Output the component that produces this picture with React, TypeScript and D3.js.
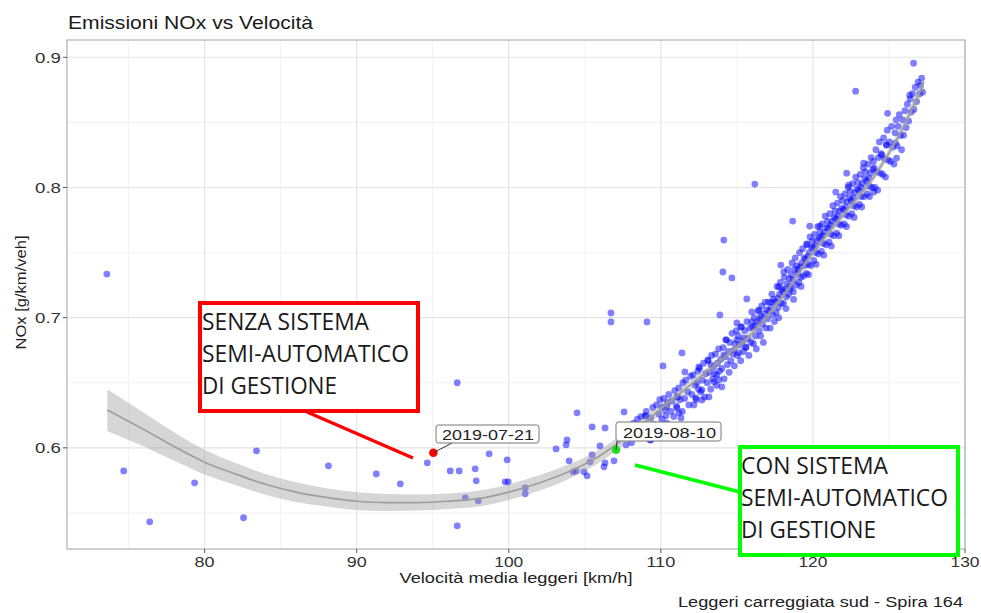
import React from 'react';
import * as d3 from 'd3';

const xTicks = [80, 90, 100, 110, 120, 130];
const xMinorTicks = [75, 85, 95, 105, 115, 125];
const yTicks = [0.6, 0.7, 0.8, 0.9];
const yMinorTicks = [0.55, 0.65, 0.75, 0.85];

const scatterPoints: [number, number][] = [
  [73.57,0.7335],[74.68,0.5823],[76.39,0.5432],[79.34,0.5731],[82.56,0.5463],[83.41,0.5977],[88.14,0.5862],[91.29,0.580],
  [92.87,0.5724],[94.64,0.5885],[96.15,0.5823],[96.74,0.5823],[96.61,0.650],[96.61,0.5401],[97.14,0.5616],[97.79,0.5839],
  [97.86,0.5747],[97.99,0.5593],[98.71,0.5954],[99.89,0.5908],[99.76,0.5739],[99.96,0.5739],[101.08,0.5693],[101.08,0.5647],
  [103.11,0.5992],[103.77,0.6023],[103.83,0.6061],[103.97,0.590],[104.49,0.6269],[104.23,0.5816],[104.43,0.5823],[104.95,0.5816],
  [105.15,0.5785],[105.48,0.6161],[105.48,0.5946],[105.34,0.5893],[106.0,0.6015],[106.33,0.6153],[106.26,0.5854],[106.33,0.5885],
  [106.92,0.590],[107.58,0.6276],[107.71,0.6023],[106.72,0.7036],[106.72,0.6967],[108.96,0.6246],[109.09,0.6967],[109.28,0.6061],
  [110.14,0.6629],[111.39,0.6729],[111.58,0.6583],[112.5,0.6622],[113.09,0.6675],[111.12,0.6391],[113.88,0.7021],[114.14,0.7596],
  [114.08,0.7351],[114.67,0.7305],[115.0,0.6959],[115.26,0.6929],[115.65,0.7144],[115.98,0.7044],[116.44,0.7059],[115.98,0.6967],
  [116.18,0.8026],[117.76,0.7236],[117.89,0.7404],[118.08,0.7351],[118.67,0.7742],[119.59,0.7566],[119.79,0.7704],[120.45,0.7704],
  [121.5,0.7965],[122.22,0.811],[122.35,0.8018],[122.81,0.874],[123.34,0.8187],[124.0,0.7965],[124.84,0.8325],[125.43,0.834],
  [125.5,0.8226],[125.96,0.8402],[126.62,0.8955],[127.08,0.8786],[127.21,0.8732],[126.36,0.871],[124.91,0.857],
  [112.37,0.650],[112.7,0.6445],[113.16,0.6391],[112.3,0.6384],[112.7,0.6368],[112.17,0.633],[111.19,0.6269],[111.32,0.623],
  [111.06,0.6307],[110.33,0.6246],[110.4,0.6315],[110.07,0.6315],[109.02,0.6246],[109.35,0.6061],[111.06,0.6391],[113.68,0.656],
  [113.81,0.6522],[113.49,0.6507],[114.01,0.6468],[113.3,0.6637],[114.27,0.683],[115.0,0.683],[115.46,0.6844],[114.14,0.6714],
  [114.8,0.675],[115.59,0.6775],[115.13,0.673]
];

const clusterPoints: [number, number][] = [
  [108.07,0.604],[108.21,0.619],[108.38,0.611],[108.46,0.622],
  [108.55,0.609],[108.69,0.624],[108.83,0.616],[108.97,0.611],
  [109.04,0.628],[109.18,0.615],[109.33,0.623],[109.47,0.631],
  [109.58,0.618],[109.71,0.633],[109.86,0.626],[109.93,0.637],
  [110.06,0.622],[110.19,0.638],[110.27,0.629],[110.44,0.635],[110.38,0.619],
  [110.52,0.641],[110.66,0.628],[110.74,0.636],[110.91,0.644],[110.85,0.624],
  [111.03,0.632],[111.17,0.646],[111.26,0.637],[111.41,0.628],[111.45,0.650],
  [111.56,0.638],[111.63,0.652],[111.77,0.643],[111.84,0.633],[111.96,0.655],
  [112.04,0.641],[112.12,0.656],[112.25,0.648],[112.31,0.637],[112.43,0.659],[112.48,0.645],
  [112.55,0.661],[112.62,0.643],[112.74,0.652],[112.81,0.665],[112.88,0.639],[112.95,0.657],
  [113.05,0.650],[113.11,0.667],[113.19,0.658],[113.28,0.645],[113.33,0.671],[113.41,0.653],[113.46,0.662],
  [113.53,0.657],[113.59,0.672],[113.66,0.648],[113.72,0.665],[113.8,0.676],[113.87,0.659],[113.94,0.668],
  [114.02,0.661],[114.1,0.677],[114.16,0.653],[114.24,0.670],[114.31,0.683],[114.38,0.664],[114.45,0.674],[114.49,0.658],
  [114.54,0.681],[114.6,0.667],[114.68,0.688],[114.75,0.672],[114.83,0.663],[114.89,0.680],[114.96,0.690],
  [115.03,0.671],[115.09,0.686],[115.17,0.679],[115.25,0.667],[115.31,0.693],[115.38,0.682],[115.44,0.674],
  [115.52,0.690],[115.58,0.677],[115.66,0.697],[115.73,0.684],[115.79,0.671],[115.86,0.692],[115.93,0.681],
  [116.03,0.693],[116.09,0.680],[116.14,0.700],[116.22,0.686],[116.28,0.676],[116.35,0.697],[116.41,0.705],[116.47,0.690],[116.2,0.694],
  [116.52,0.699],[116.57,0.686],[116.63,0.709],[116.69,0.695],[116.74,0.681],[116.8,0.703],[116.86,0.712],[116.91,0.692],[116.97,0.706],[116.6,0.701],
  [117.02,0.699],[117.08,0.712],[117.13,0.705],[117.19,0.692],[117.24,0.708],[117.3,0.718],[117.36,0.702],[117.41,0.714],[117.47,0.697],[117.27,0.712],
  [117.53,0.712],[117.58,0.704],[117.64,0.724],[117.69,0.715],[117.75,0.700],[117.81,0.718],[117.86,0.727],[117.92,0.711],[117.97,0.722],[117.72,0.708],
  [118.02,0.720],[118.07,0.711],[118.12,0.731],[118.18,0.722],[118.23,0.707],[118.29,0.726],[118.34,0.737],[118.39,0.718],[118.45,0.730],[118.49,0.724],[118.26,0.716],
  [118.53,0.722],[118.58,0.733],[118.63,0.742],[118.68,0.729],[118.73,0.714],[118.78,0.737],[118.84,0.746],[118.89,0.725],[118.94,0.740],[118.98,0.734],[118.71,0.720],
  [119.03,0.737],[119.07,0.727],[119.12,0.750],[119.17,0.739],[119.22,0.724],[119.27,0.742],[119.32,0.753],[119.37,0.732],[119.42,0.746],[119.47,0.740],[119.2,0.731],
  [119.52,0.745],[119.56,0.734],[119.61,0.756],[119.66,0.747],[119.71,0.733],[119.76,0.750],[119.81,0.762],[119.86,0.740],[119.91,0.754],[119.96,0.759],[119.69,0.741],
  [120.02,0.754],[120.06,0.744],[120.11,0.764],[120.16,0.755],[120.21,0.741],[120.26,0.759],[120.31,0.770],[120.36,0.749],[120.41,0.761],[120.46,0.766],[120.19,0.750],
  [120.52,0.762],[120.56,0.751],[120.61,0.772],[120.66,0.763],[120.71,0.748],[120.76,0.766],[120.81,0.778],[120.86,0.756],[120.91,0.769],[120.96,0.774],[120.68,0.757],
  [121.02,0.769],[121.06,0.758],[121.11,0.780],[121.16,0.771],[121.21,0.755],[121.26,0.774],[121.31,0.786],[121.36,0.763],[121.41,0.777],[121.46,0.782],[121.18,0.764],
  [121.52,0.776],[121.56,0.765],[121.61,0.788],[121.66,0.778],[121.71,0.763],[121.76,0.782],[121.81,0.793],[121.86,0.771],[121.91,0.784],[121.96,0.790],[121.69,0.772],
  [122.02,0.783],[122.06,0.772],[122.11,0.795],[122.16,0.785],[122.21,0.770],[122.26,0.789],[122.31,0.800],[122.36,0.778],[122.41,0.792],[122.46,0.797],[122.18,0.779],
  [122.52,0.790],[122.56,0.780],[122.61,0.803],[122.66,0.792],[122.71,0.777],[122.76,0.796],[122.81,0.808],[122.86,0.785],[122.91,0.799],[122.96,0.804],[122.68,0.786],
  [123.02,0.798],[123.06,0.787],[123.11,0.810],[123.16,0.800],[123.21,0.785],[123.26,0.803],[123.31,0.815],[123.36,0.793],[123.41,0.807],[123.46,0.812],[123.18,0.793],
  [123.52,0.805],[123.57,0.795],[123.62,0.818],[123.67,0.807],[123.72,0.793],[123.78,0.811],[123.83,0.823],[123.88,0.800],[123.94,0.814],[123.98,0.820],[123.7,0.801],
  [124.03,0.815],[124.08,0.800],[124.14,0.829],[124.2,0.812],[124.26,0.798],[124.31,0.823],[124.37,0.835],[124.43,0.811],[124.48,0.826],
  [124.53,0.825],[124.59,0.810],[124.65,0.838],[124.71,0.822],[124.77,0.808],[124.83,0.833],[124.89,0.844],[124.95,0.821],
  [125.04,0.835],[125.11,0.820],[125.18,0.847],[125.25,0.831],[125.33,0.818],[125.4,0.842],[125.47,0.852],
  [125.53,0.832],[125.6,0.847],[125.68,0.856],[125.75,0.840],[125.83,0.829],[125.9,0.852],
  [126.05,0.859],[126.13,0.846],[126.21,0.864],[126.3,0.851],[126.39,0.868],[126.47,0.858],
  [126.55,0.872],[126.64,0.860],[126.73,0.877],[126.82,0.866],[126.91,0.881],[127.03,0.872],[127.15,0.884]
];

const smoothX = [73.6, 76, 78, 80, 82, 84, 86, 88, 90, 92, 94, 96, 98, 100, 102, 104, 106, 108, 110, 112, 114, 116, 118, 120, 122, 124, 126, 127.3];
const smoothY = [0.629, 0.614, 0.601, 0.589, 0.580, 0.572, 0.566, 0.562, 0.559, 0.558, 0.558, 0.559, 0.561, 0.566, 0.573, 0.582, 0.594, 0.611, 0.630, 0.649, 0.668, 0.688, 0.716, 0.750, 0.779, 0.808, 0.848, 0.881];
const smoothSe = [0.016, 0.013, 0.011, 0.0095, 0.0085, 0.008, 0.0075, 0.007, 0.0068, 0.0065, 0.0062, 0.006, 0.006, 0.006, 0.006, 0.0055, 0.005, 0.0045, 0.004, 0.003, 0.003, 0.003, 0.003, 0.003, 0.003, 0.003, 0.004, 0.006];

const highlightDates = ['2019-07-21', '2019-08-10'];
const highlightX = [95.04, 107.05];
const highlightY = [0.5962, 0.5985];
const highlightColors = ['#ff0000', '#22dd22'];

const annotationLabels = [
  ['SENZA SISTEMA', 'SEMI-AUTOMATICO', 'DI GESTIONE'],
  ['CON SISTEMA', 'SEMI-AUTOMATICO', 'DI GESTIONE'],
];
const annotationColors = ['#ff0000', '#00ff00'];

const titleText = 'Emissioni NOx vs Velocità';
const xTitle = 'Velocità media leggeri [km/h]';
const yTitle = 'NOx [g/km/veh]';
const captionText = 'Leggeri carreggiata sud - Spira 164';

export default function App() {
  const W = 981, H = 613;
  const pL = 67, pR = 965, pT = 40, pB = 549;
  const x = d3.scaleLinear().domain([70.95, 130.0]).range([pL, pR]);
  const y = d3.scaleLinear().domain([0.5223, 0.9133]).range([pB, pT]);

  const idx = smoothX.map((_, i) => i);
  const area = d3.area<number>()
    .x(i => x(smoothX[i]))
    .y0(i => y(smoothY[i] - smoothSe[i]))
    .y1(i => y(smoothY[i] + smoothSe[i]))
    .curve(d3.curveMonotoneX);
  const line = d3.line<number>()
    .x(i => x(smoothX[i]))
    .y(i => y(smoothY[i]))
    .curve(d3.curveMonotoneX);

  const axisFont = "'Liberation Sans', Arial, Helvetica, sans-serif";
  const annFont = "'Open Sans', 'Noto Sans', sans-serif";
  const allPoints = [...scatterPoints, ...clusterPoints];

  const xTickW = (v: number) => (v >= 100 ? 29 : 20);

  const boxes = [
    { x: 200, y: 303, w: 218, h: 108, tx: 202, ty: [330, 362, 394], tw: [167, 207, 135], lx1: 307, ly1: 412, lx2: 413, ly2: 458 },
    { x: 740, y: 447, w: 218, h: 108, tx: 741, ty: [474, 506, 538], tw: [147, 207, 135], lx1: 635, ly1: 465, lx2: 740, ly2: 492 },
  ];
  const labelBoxes = [
    { bx: 436, by: 425, bw: 103, bh: 18, tx: 442, tw: 92, lx: 452, ly: 443 },
    { bx: 616, by: 422, bw: 105, bh: 19, tx: 623, tw: 93, lx: 617, ly: 441 },
  ];

  return (
    <svg width={W} height={H} style={{ position: 'absolute', left: 0, top: 0, background: '#fff' }}>
      <rect x={0} y={0} width={W} height={H} fill="#fff" />
      {xMinorTicks.map(v => (
        <line key={'xm' + v} x1={x(v)} x2={x(v)} y1={pT} y2={pB} stroke="#efefef" strokeWidth={0.8} />
      ))}
      {yMinorTicks.map(v => (
        <line key={'ym' + v} x1={pL} x2={pR} y1={y(v)} y2={y(v)} stroke="#efefef" strokeWidth={0.8} />
      ))}
      {xTicks.map(v => (
        <line key={'xg' + v} x1={x(v)} x2={x(v)} y1={pT} y2={pB} stroke="#e3e3e3" strokeWidth={1.1} />
      ))}
      {yTicks.map(v => (
        <line key={'yg' + v} x1={pL} x2={pR} y1={y(v)} y2={y(v)} stroke="#e3e3e3" strokeWidth={1.1} />
      ))}
      <g>
        {allPoints.map((p, i) => (
          <circle key={i} cx={x(p[0])} cy={y(p[1])} r={3.4} fill="#0000ff" fillOpacity={0.5} />
        ))}
      </g>
      <path d={area(idx) || ''} fill="#999999" fillOpacity={0.4} />
      <path d={line(idx) || ''} fill="none" stroke="#9e9e9e" strokeWidth={1.7} />
      {highlightX.map((hx, i) => (
        <circle key={'h' + i} cx={x(hx)} cy={y(highlightY[i])} r={4.3} fill={highlightColors[i]} />
      ))}
      {labelBoxes.map((b, i) => (
        <g key={'lb' + i}>
          <line x1={x(highlightX[i])} y1={y(highlightY[i])} x2={b.lx} y2={b.ly} stroke="#333" strokeWidth={1} />
          <rect x={b.bx} y={b.by} width={b.bw} height={b.bh} rx={2.5} fill="#fff" stroke="#777" strokeWidth={1} />
          <text x={b.tx} y={b.by + b.bh - 3.5} fontFamily={axisFont} fontSize={15.5} fill="#222"
            textLength={b.tw} lengthAdjust="spacingAndGlyphs">{highlightDates[i]}</text>
        </g>
      ))}
      <rect x={pL} y={pT} width={pR - pL} height={pB - pT} fill="none" stroke="#aaaaaa" strokeWidth={1.1} />
      {xTicks.map(v => (
        <g key={'xt' + v}>
          <line x1={x(v)} x2={x(v)} y1={pB} y2={pB + 4} stroke="#555" strokeWidth={1} />
          <text x={x(v)} y={567} textAnchor="middle" fontFamily={axisFont} fontSize={15.5} fill="#333"
            textLength={xTickW(v)} lengthAdjust="spacingAndGlyphs">{String(v)}</text>
        </g>
      ))}
      {yTicks.map(v => (
        <g key={'yt' + v}>
          <line x1={pL - 4} x2={pL} y1={y(v)} y2={y(v)} stroke="#555" strokeWidth={1} />
          <text x={61} y={y(v) + 5.5} textAnchor="end" fontFamily={axisFont} fontSize={15.5} fill="#333"
            textLength={26} lengthAdjust="spacingAndGlyphs">{v.toFixed(1)}</text>
        </g>
      ))}
      <text x={68} y={29} fontFamily={axisFont} fontSize={19} fill="#1a1a1a" textLength={245} lengthAdjust="spacingAndGlyphs">{titleText}</text>
      <text x={(pL + pR) / 2} y={583} textAnchor="middle" fontFamily={axisFont} fontSize={15} fill="#222"
        textLength={233} lengthAdjust="spacingAndGlyphs">{xTitle}</text>
      <text transform={`translate(26, ${(pT + pB) / 2 - 2}) rotate(-90)`} textAnchor="middle" fontFamily={axisFont} fontSize={14}
        fill="#222" textLength={114} lengthAdjust="spacingAndGlyphs">{yTitle}</text>
      <text x={963} y={607} textAnchor="end" fontFamily={axisFont} fontSize={15.5} fill="#222"
        textLength={285} lengthAdjust="spacingAndGlyphs">{captionText}</text>
      {boxes.map((b, i) => (
        <g key={'ann' + i}>
          <line x1={b.lx1} y1={b.ly1} x2={b.lx2} y2={b.ly2} stroke={annotationColors[i]} strokeWidth={3.5} />
          <rect x={b.x} y={b.y} width={b.w} height={b.h} fill="#fff" stroke={annotationColors[i]} strokeWidth={4} />
          {annotationLabels[i].map((t, j) => (
            <text key={j} x={b.tx} y={b.ty[j]} fontFamily={annFont} fontSize={23} fill="#1a1a1a"
              textLength={b.tw[j]} lengthAdjust="spacingAndGlyphs">{t}</text>
          ))}
        </g>
      ))}
    </svg>
  );
}
